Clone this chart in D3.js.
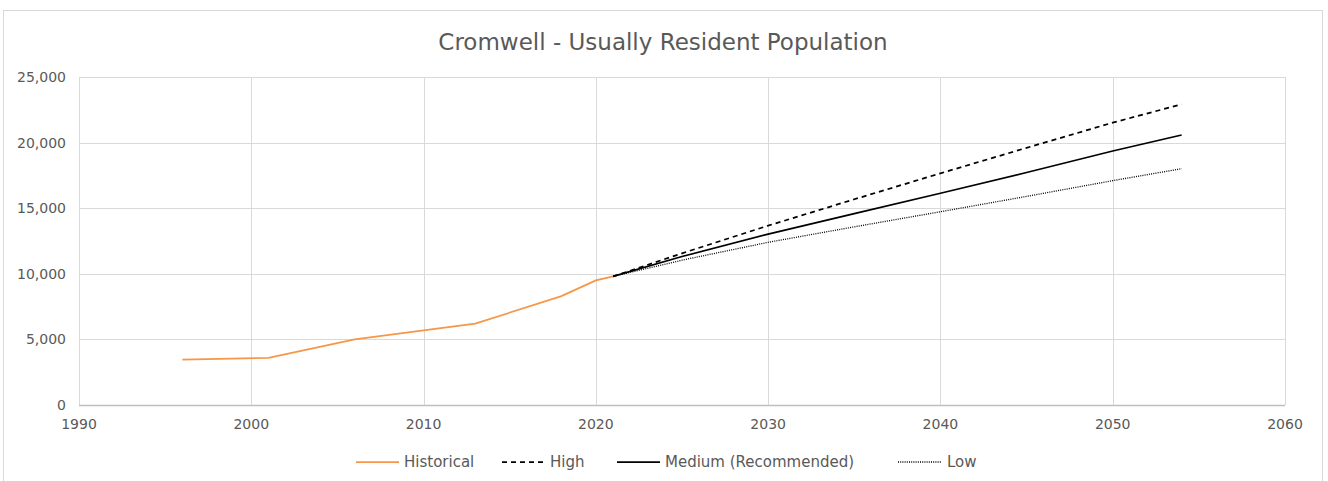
<!DOCTYPE html>
<html lang="en">
<head>
  <meta charset="UTF-8">
  <title>Cromwell - Usually Resident Population</title>
  <script src="https://d3js.org/d3.v7.min.js"></script>
  <style>
    body {
      margin: 0;
      background: #fff;
      font-family: 'DejaVu Sans', sans-serif;
    }
    .grid line {
      stroke: #d9d9d9;
      stroke-width: 1;
    }
    .tick-label {
      fill: #595959;
      font-size: 14px;
    }
    .legend text {
      fill: #595959;
      font-size: 15px;
    }
  </style>
</head>
<body>
  <svg width="1328" height="481"></svg>

  <script>
    // historical census counts
    let histYears = [1996, 2001, 2006, 2013, 2018, 2020, 2021];
    let histPop = [3450, 3600, 5000, 6200, 8300, 9500, 9800];

    // projection scenarios
    let projYears = [2021, 2025, 2030, 2035, 2040, 2045, 2050, 2054];
    let highPop = [9800, 11560, 13670, 15680, 17660, 19600, 21520, 22920];
    let mediumPop = [9800, 11320, 13030, 14580, 16140, 17720, 19360, 20580];
    let lowPop = [9800, 11040, 12400, 13580, 14730, 15900, 17100, 18010];

    let xTicks = [1990, 2000, 2010, 2020, 2030, 2040, 2050, 2060];
    let yTicks = [0, 5000, 10000, 15000, 20000, 25000];

    let width = 1328, height = 481;
    let margin = { top: 77, right: 43, bottom: 76, left: 79 };
    let innerWidth = width - margin.left - margin.right;
    let innerHeight = height - margin.top - margin.bottom;

    let svg = d3.select('svg');

    // outer chart border (bottom edge runs past the window)
    svg.append('rect')
      .attr('x', 3.5).attr('y', 10.5)
      .attr('width', 1319).attr('height', 480)
      .attr('fill', 'none')
      .attr('stroke', '#d9d9d9');

    svg.append('text')
      .attr('x', 663).attr('y', 50)
      .attr('text-anchor', 'middle')
      .style('font-size', '23px')
      .style('fill', '#595959')
      .text('Cromwell - Usually Resident Population');

    let chart = svg.append('g')
      .attr('transform', `translate(${margin.left},${margin.top})`);

    let x = d3.scaleLinear().domain([1990, 2060]).range([0, innerWidth]);
    let y = d3.scaleLinear().domain([0, 25000]).range([innerHeight, 0]);

    // gridlines
    chart.append('g').attr('class', 'grid')
      .selectAll('line').data(xTicks).enter().append('line')
      .attr('x1', d => Math.round(x(d)) + 0.5).attr('x2', d => Math.round(x(d)) + 0.5)
      .attr('y1', 0).attr('y2', innerHeight);

    chart.append('g').attr('class', 'grid')
      .selectAll('line').data(yTicks).enter().append('line')
      .attr('x1', 0).attr('x2', innerWidth)
      .attr('y1', d => Math.round(y(d)) + 0.5).attr('y2', d => Math.round(y(d)) + 0.5);

    // axis lines
    chart.append('line')
      .attr('x1', 0).attr('x2', innerWidth)
      .attr('y1', innerHeight + 0.5).attr('y2', innerHeight + 0.5)
      .attr('stroke', '#bfbfbf').attr('stroke-width', 1.5);

    chart.append('line')
      .attr('x1', 0.5).attr('x2', 0.5)
      .attr('y1', 0).attr('y2', innerHeight)
      .attr('stroke', '#d9d9d9');

    // tick labels
    chart.selectAll('.x-label')
      .data(xTicks).enter().append('text')
      .attr('class', 'tick-label x-label')
      .attr('x', d => x(d))
      .attr('y', innerHeight + 24)
      .attr('text-anchor', 'middle')
      .text(d3.format('d'));

    chart.selectAll('.y-label')
      .data(yTicks).enter().append('text')
      .attr('class', 'tick-label y-label')
      .attr('x', -13)
      .attr('y', d => y(d) + 5)
      .attr('text-anchor', 'end')
      .text(d3.format(','));

    let line = d3.line().x(d => x(d[0])).y(d => y(d[1]));

    let series = [
      { name: 'Historical', years: histYears, values: histPop, color: '#f79646', dash: null },
      { name: 'High', years: projYears, values: highPop, color: '#000', dash: '5,4' },
      { name: 'Medium (Recommended)', years: projYears, values: mediumPop, color: '#000', dash: null },
      { name: 'Low', years: projYears, values: lowPop, color: '#000', dash: '1,1.2' }
    ];

    chart.selectAll('.series')
      .data(series)
      .enter().append('path')
      .attr('class', 'series')
      .attr('d', s => line(d3.zip(s.years, s.values)))
      .attr('fill', 'none')
      .attr('stroke', s => s.color)
      .attr('stroke-width', s => s.name === 'Low' ? 1.3 : 1.75)
      .attr('stroke-dasharray', s => s.dash);

    // legend
    let legendX = [356, 502, 617, 898];
    let legend = svg.append('g').attr('class', 'legend')
      .selectAll('g').data(series).enter().append('g')
      .attr('transform', (s, i) => `translate(${legendX[i]},462)`);

    legend.append('line')
      .attr('x1', 0).attr('x2', 43)
      .attr('stroke', s => s.color)
      .attr('stroke-width', s => s.name === 'Low' ? 1.3 : 1.75)
      .attr('stroke-dasharray', s => s.dash);

    legend.append('text')
      .attr('x', s => s.name === 'Low' ? 49 : 48).attr('y', 5)
      .text(s => s.name);
  </script>
</body>
</html>
